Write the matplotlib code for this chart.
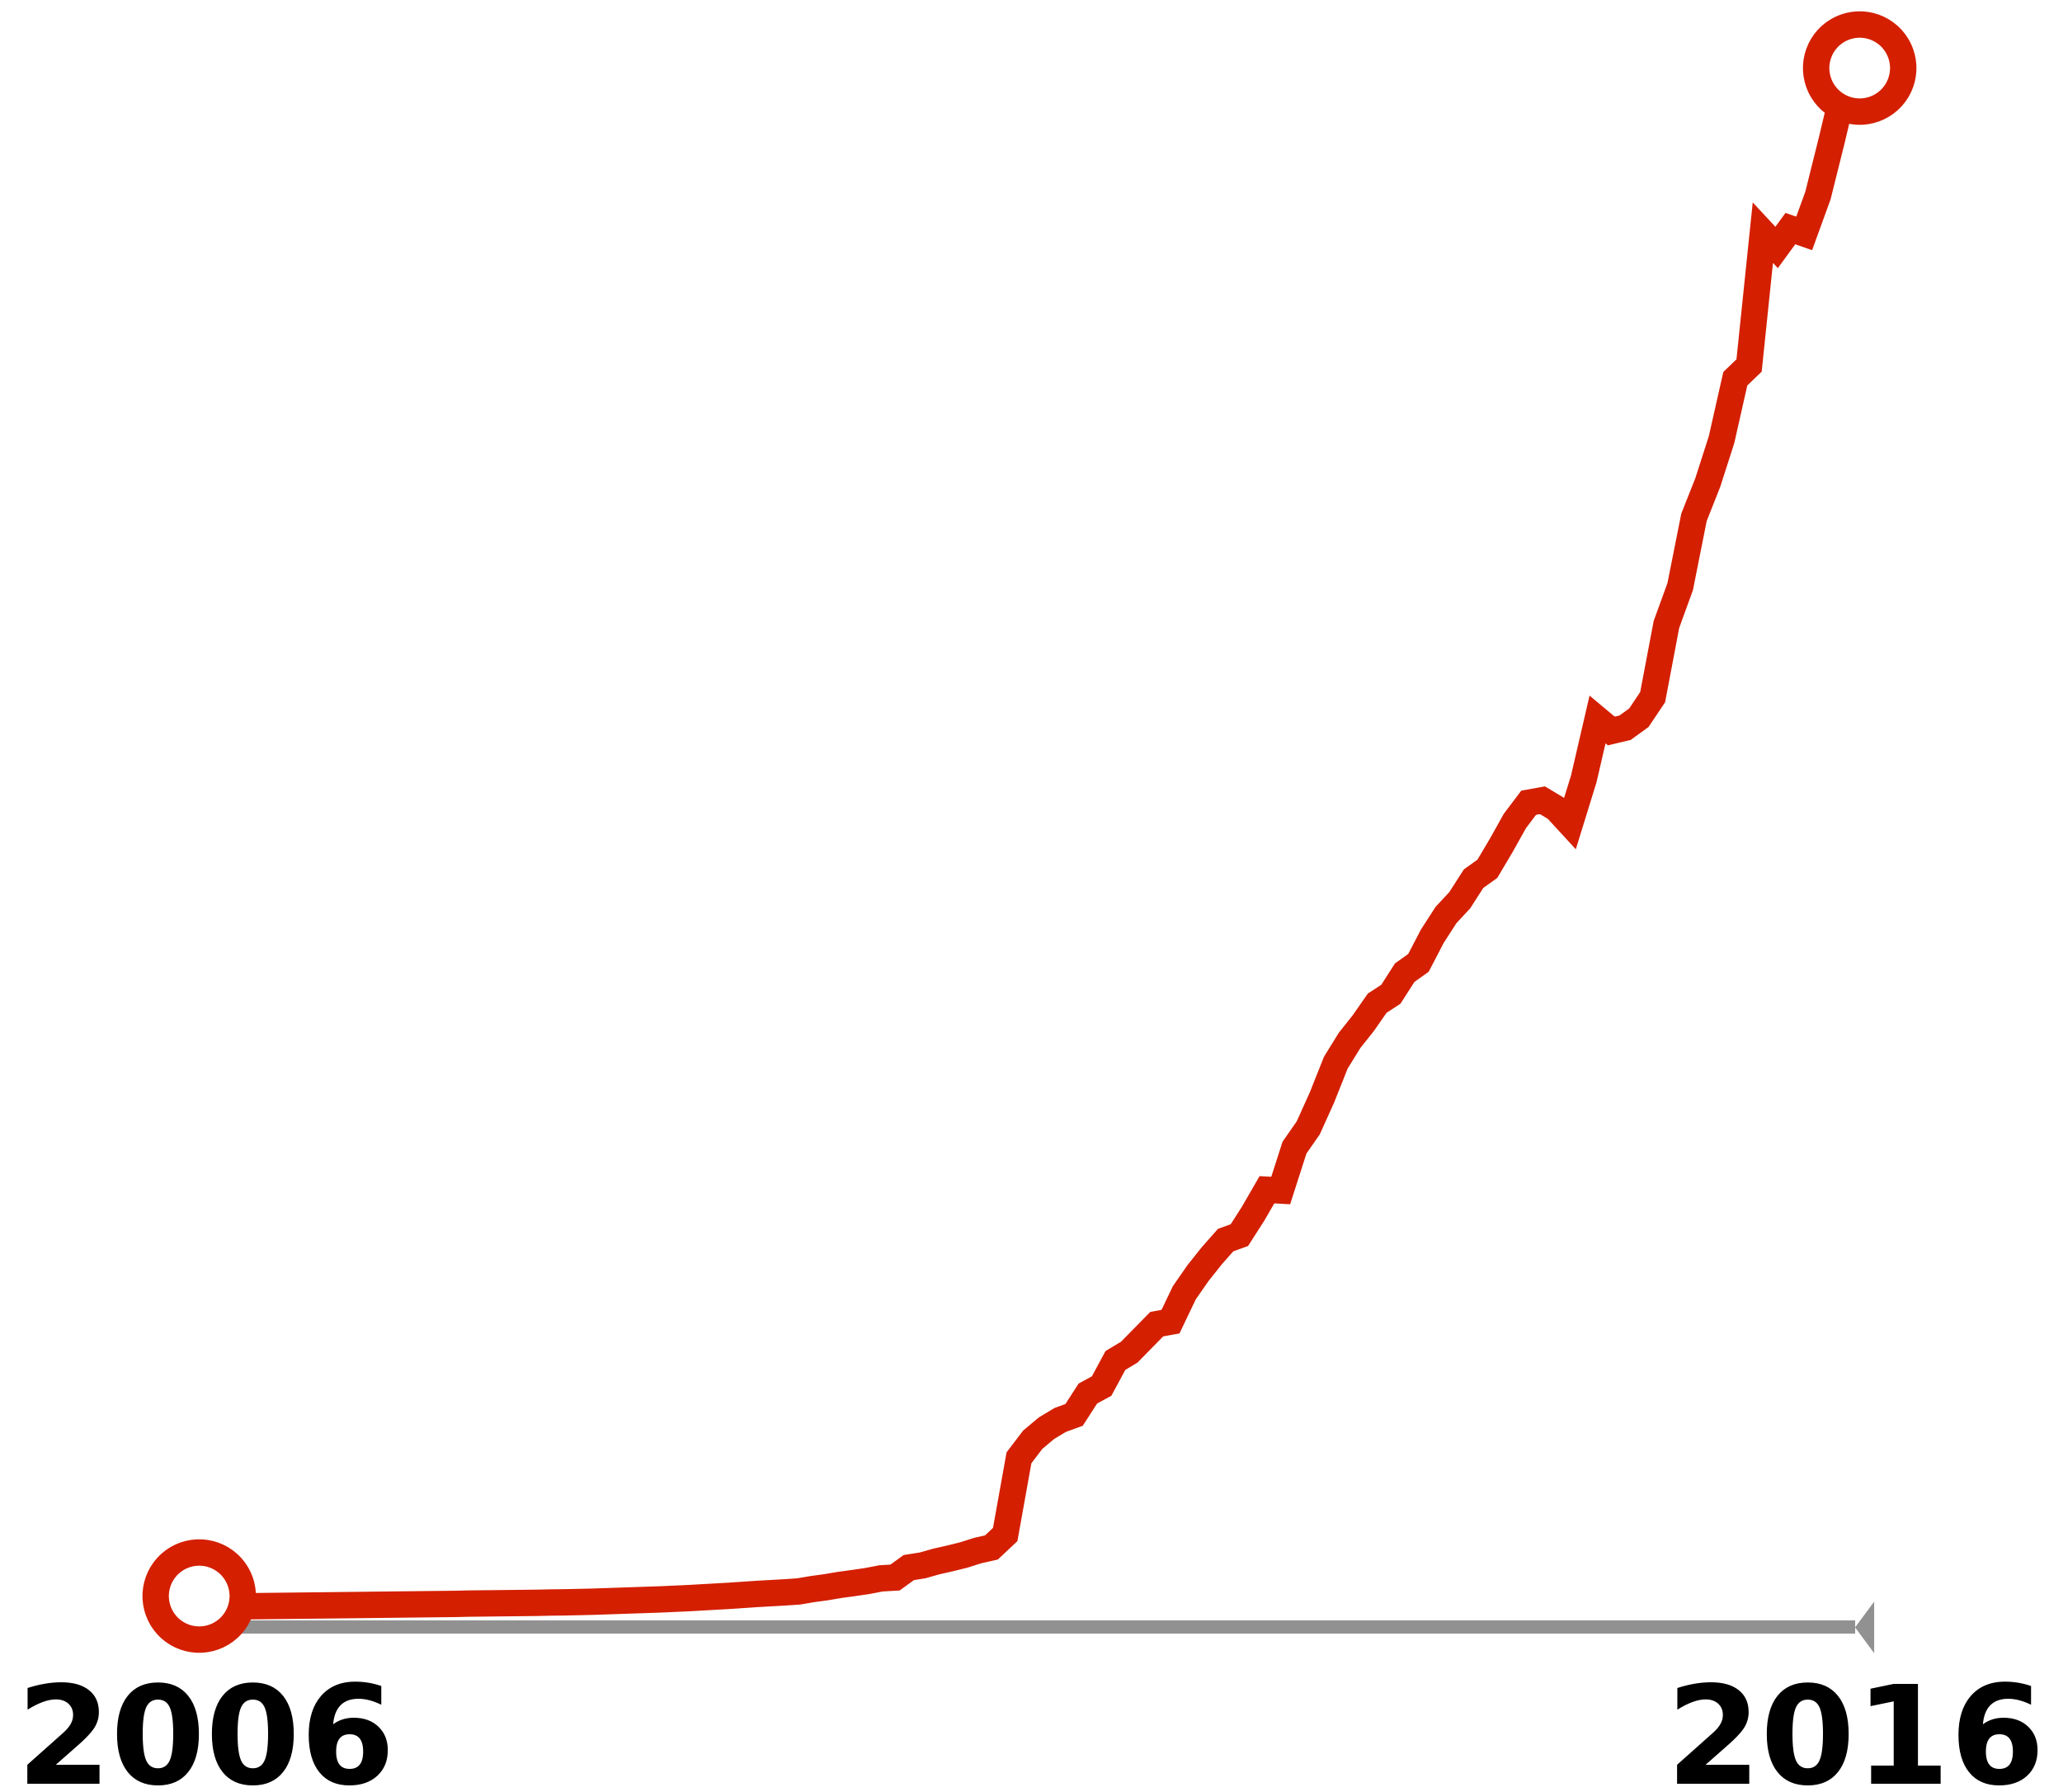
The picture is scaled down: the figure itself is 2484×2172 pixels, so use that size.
import numpy as np
import matplotlib
matplotlib.use("Agg")
import matplotlib.pyplot as plt

# monthly index values, Jan 2006 .. Jan 2016
values = [
    1.30, 1.31, 1.32, 1.33, 1.34, 1.35, 1.36, 1.37, 1.38, 1.39,
    1.40, 1.41, 1.42, 1.43, 1.44, 1.45, 1.46, 1.47, 1.48, 1.50,
    1.51, 1.52, 1.53, 1.54, 1.55, 1.57, 1.58, 1.60, 1.62, 1.65,
    1.68, 1.71, 1.74, 1.77, 1.81, 1.85, 1.90, 1.95, 2.00, 2.06,
    2.12, 2.17, 2.22, 2.28, 2.43, 2.55, 2.70, 2.82, 2.95, 3.12,
    3.17, 3.81, 3.95, 4.20, 4.40, 4.62, 4.90, 5.10, 5.93, 10.85,
    12.01, 12.75, 13.28, 13.60, 14.97, 15.45, 17.09, 17.62, 18.52, 19.42,
    19.58, 21.43, 22.70, 23.81, 24.81, 25.13, 26.51, 28.04, 27.99, 30.74,
    32.01, 33.97, 36.19, 37.62, 38.73, 40.00, 40.58, 41.96, 42.59, 44.29,
    45.66, 46.61, 47.99, 48.62, 50.11, 51.69, 52.86, 53.02, 52.49, 51.53,
    54.39, 58.20, 57.46, 57.67, 58.31, 59.63, 64.29, 66.72, 71.16, 73.39,
    76.14, 80.05, 80.90, 89.42, 88.47, 89.68, 89.37, 91.80, 95.34, 99.05,
    100.0,
]
start_year = 2006
years = start_year + np.arange(len(values)) / 12.0

# end markers (start / latest)
marker_years = [2005.955, 2016.0]
marker_values = [2.0, 100.0]
tick_labels = ["2006", "2016"]

red = "#d41f00"
gray = "#919191"

fig = plt.figure(figsize=(24.84, 21.72), dpi=100)
ax = fig.add_axes([0, 0, 1, 1])
ax.set_xlim(2004.7525, 2017.1477)
ax.set_ylim(-10.582, 104.339)
ax.axis("off")

# baseline with arrow-ish end
axis_end = 2015.975
ax.plot([years[0], axis_end], [0, 0], color=gray, lw=11.5,
        solid_capstyle="butt", zorder=1)
tri = [(-0.37, 0), (0.37, 1), (0.37, -1)]
ax.plot([2016.032], [0], marker=tri, markersize=45, color=gray,
        markeredgewidth=0, zorder=1)

ax.plot(years, values, color=red, lw=23, solid_joinstyle="miter",
        solid_capstyle="butt", zorder=2)
ax.plot(marker_years, marker_values, ls="none",
        marker="o", markersize=76, markerfacecolor="white",
        markeredgecolor=red, markeredgewidth=23, zorder=3)

fig.text(0.008, 0.0048, tick_labels[0], ha="left", va="baseline",
         fontsize=119, fontweight="bold", family="DejaVu Sans")
fig.text(0.9985, 0.0048, tick_labels[1], ha="right", va="baseline",
         fontsize=119, fontweight="bold", family="DejaVu Sans")

fig.savefig("out.png", dpi=100, facecolor="white")
